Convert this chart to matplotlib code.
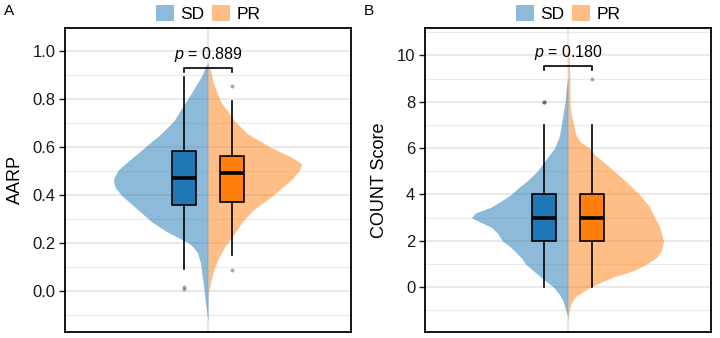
import matplotlib
matplotlib.use('Agg')
import matplotlib.pyplot as plt
from matplotlib.patches import Patch

plt.rcParams['font.family'] = ['Liberation Sans', 'DejaVu Sans']
plt.rcParams['mathtext.fontset'] = 'custom'
plt.rcParams['mathtext.it'] = 'Liberation Sans:italic'
plt.rcParams['mathtext.rm'] = 'Liberation Sans'

groups = ['SD', 'PR']
colors = ['#1f77b4', '#ff7f0e']

# violin outlines (y value, relative density)
aarp_sd_y = [0.95, 0.93, 0.90, 0.865, 0.80, 0.75, 0.71, 0.657, 0.60, 0.546, 0.504, 0.475,
             0.455, 0.43, 0.40, 0.35, 0.29, 0.25, 0.22, 0.20, 0.18, 0.16, 0.12, 0.08,
             0.04, 0.00, -0.05, -0.10, -0.13]
aarp_sd_dens = [0, .03, .06, .11, .21, .29, .35, .48, .65, .81, .93, .97,
                .98, .96, .90, .76, .59, .44, .30, .20, .15, .11, .08, .067,
                .052, .041, .026, .01, 0]
aarp_pr_y = [0.945, 0.92, 0.86, 0.79, 0.71, 0.657, 0.60, 0.556, 0.53, 0.504, 0.462, 0.40,
             0.337, 0.296, 0.226, 0.185, 0.13, 0.088, 0.05, 0.02, -0.01, -0.03]
aarp_pr_dens = [0, .026, .06, .13, .27, .40, .64, .87, .97, .95, .86, .68,
                .47, .37, .25, .175, .10, .06, .036, .02, .005, 0]

count_sd_y = [9.1, 8.5, 8.0, 7.5, 7.0, 6.5, 6.0, 5.5, 5.0, 4.6, 4.3, 4.0, 3.7, 3.45, 3.2, 3.0,
              2.83, 2.6, 2.33, 2.0, 1.75, 1.5, 1.25, 1.0, 0.75, 0.5, 0.3, 0.0, -0.3, -0.6,
              -0.9, -1.15, -1.35]
count_sd_dens = [0, .02, .03, .05, .07, .09, .14, .23, .32, .42, .51, .59, .70, .80, .96, 1.0,
                 .92, .80, .73, .68, .60, .54, .48, .44, .37, .30, .24, .15, .09, .05,
                 .03, .01, 0]
count_pr_y = [10.25, 10.0, 9.0, 8.0, 7.5, 7.0, 6.6, 6.3, 6.0, 5.7, 5.4, 5.0, 4.6, 4.0, 3.5,
              3.0, 2.6, 2.0, 1.6, 1.3, 1.0, 0.7, 0.45, 0.2, -0.1, -0.4, -0.7, -1.1, -1.5]
count_pr_dens = [0, .01, .02, .02, .03, .06, .08, .12, .22, .28, .37, .48, .59, .74, .84,
                 .90, .95, .99, .97, .92, .82, .67, .48, .33, .19, .08, .03, .01, 0]

# box stats: whislo, q1, median, q3, whishi, outliers
aarp_sd_box = [0.09, 0.358, 0.47, 0.582, 0.89]
aarp_pr_box = [0.15, 0.372, 0.49, 0.564, 0.79]
aarp_sd_out = [0.018, 0.008]
aarp_pr_out = [0.853, 0.088]
count_sd_box = [0, 2, 3, 4, 7]
count_pr_box = [0, 2, 3, 4, 7]
count_sd_out = [8, 8, 8]
count_pr_out = [9]

p_values = ['0.889', '0.180']
ylabels = ['AARP', 'COUNT Score']
panel_tags = ['A', 'B']


def stats(b, out):
    return dict(whislo=b[0], q1=b[1], med=b[2], q3=b[3], whishi=b[4], fliers=out)


panels = [
    dict(vy=[aarp_sd_y, aarp_pr_y], vd=[aarp_sd_dens, aarp_pr_dens],
         box=[stats(aarp_sd_box, aarp_sd_out), stats(aarp_pr_box, aarp_pr_out)],
         ylim=(-0.171, 1.095), major=[0, 0.2, 0.4, 0.6, 0.8, 1.0],
         minor=[-0.1, 0.1, 0.3, 0.5, 0.7, 0.9], fmt='{:.1f}',
         br=0.929, br_tick=0.018, txt=0.945),
    dict(vy=[count_sd_y, count_pr_y], vd=[count_sd_dens, count_pr_dens],
         box=[stats(count_sd_box, count_sd_out), stats(count_pr_box, count_pr_out)],
         ylim=(-1.93, 11.18), major=[0, 2, 4, 6, 8, 10],
         minor=[-1, 1, 3, 5, 7, 9, 11], fmt='{:.0f}',
         br=9.55, br_tick=0.17, txt=9.72),
]

fig = plt.figure(figsize=(7.2, 3.38), dpi=100)
lefts = [65 / 720, 425 / 720]
vw = 0.405

for i, pnl in enumerate(panels):
    ax = fig.add_axes([lefts[i], 6 / 338, 286 / 720, 304 / 338])
    ax.set_xlim(0.4, 1.6)
    ax.set_ylim(*pnl['ylim'])
    ax.set_yticks(pnl['major'])
    ax.set_yticklabels([pnl['fmt'].format(v) for v in pnl['major']])
    ax.set_yticks(pnl['minor'], minor=True)
    ax.set_xticks([1])
    ax.set_xticklabels([])
    ax.tick_params(axis='x', length=0)
    ax.tick_params(axis='y', which='major', length=4, width=1, labelsize=12,
                   colors='#1a1a1a', pad=3)
    ax.tick_params(axis='y', which='minor', length=0)
    ax.grid(True, which='major', color='#e5e5e5', lw=1.2)
    ax.grid(True, which='minor', axis='y', color='#ebebeb', lw=0.8)
    ax.set_axisbelow(True)
    for s in ax.spines.values():
        s.set_linewidth(1.3)
        s.set_color('black')

    # half violins
    sd_d = [d * vw for d in pnl['vd'][0]]
    pr_d = [d * vw for d in pnl['vd'][1]]
    ax.fill_betweenx(pnl['vy'][0], [1 - d for d in sd_d], 1, color=colors[0],
                     alpha=0.5, lw=0, zorder=2)
    ax.fill_betweenx(pnl['vy'][1], 1, [1 + d for d in pr_d], color=colors[1],
                     alpha=0.5, lw=0, zorder=2)

    bp = ax.bxp(pnl['box'], positions=[0.9, 1.1], widths=0.1, patch_artist=True,
                showcaps=False, manage_ticks=False,
                boxprops=dict(edgecolor='black', lw=1.2),
                whiskerprops=dict(color='black', lw=1.2),
                medianprops=dict(color='black', lw=2.6),
                flierprops=dict(marker='o', markersize=2.8, markerfacecolor='#555555',
                                markeredgecolor='none', alpha=0.5))
    for patch, c in zip(bp['boxes'], colors):
        patch.set_facecolor(c)
    for art in bp['boxes'] + bp['whiskers'] + bp['medians'] + bp['fliers']:
        art.set_zorder(3)

    # significance bracket
    ax.plot([0.9, 0.9, 1.1, 1.1],
            [pnl['br'] - pnl['br_tick'], pnl['br'], pnl['br'], pnl['br'] - pnl['br_tick']],
            color='black', lw=1.2, zorder=4)
    ax.text(1.0, pnl['txt'], r'$p$ = ' + p_values[i], ha='center', va='bottom',
            fontsize=11.5, zorder=5)

    ax.set_ylabel(ylabels[i], fontsize=13, labelpad=6)

    handles = [Patch(facecolor=c, alpha=0.5, edgecolor='none') for c in colors]
    ax.legend(handles, groups, loc='center', bbox_to_anchor=(0.5, 1.049), ncol=2,
              frameon=False, fontsize=12.5, handlelength=1.05, handleheight=1.05,
              handletextpad=0.35, columnspacing=0.45, borderaxespad=0, borderpad=0)

    fig.text(lefts[i] - 61 / 720, 1 - 11 / 338, panel_tags[i], fontsize=11,
             ha='left', va='center')

fig.savefig('out.png', dpi=100)
